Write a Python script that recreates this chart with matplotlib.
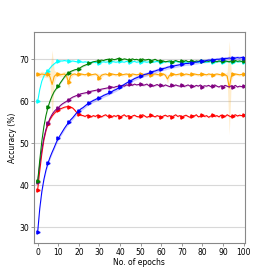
import matplotlib
matplotlib.use("Agg")
import matplotlib.pyplot as plt
import numpy as np

epochs = list(range(0, 101))

blue = [29.0, 34.5, 38.5, 41.4, 43.6, 45.3,
        46.7, 47.9, 49.0, 50.2, 51.2,
        52.0, 52.8, 53.6, 54.3, 55.0,
        55.6, 56.1, 56.7, 57.3, 57.8,
        58.2, 58.5, 58.9, 59.3, 59.7,
        59.9, 60.2, 60.4, 60.7, 60.9,
        61.1, 61.4, 61.6, 61.8, 62.1,
        62.3, 62.6, 62.8, 63.1, 63.4,
        63.7, 64.0, 64.3, 64.6, 64.9,
        65.1, 65.4, 65.6, 65.8, 66.0,
        66.2, 66.4, 66.5, 66.7, 66.9,
        67.1, 67.2, 67.4, 67.5, 67.7,
        67.8, 67.9, 68.1, 68.2, 68.3,
        68.4, 68.5, 68.6, 68.7, 68.8,
        68.9, 69.0, 69.0, 69.1, 69.2,
        69.3, 69.3, 69.4, 69.5, 69.6,
        69.6, 69.7, 69.8, 69.8, 69.9,
        69.9, 70.0, 70.0, 70.1, 70.1,
        70.2, 70.2, 70.3, 70.2, 70.3,
        70.3, 70.4, 70.3, 70.4, 70.4]

green = [41.0, 46.0, 50.5, 54.0, 56.6, 58.6, 60.1, 61.3, 62.3, 63.0,
         63.6, 64.4, 65.1, 65.8, 66.4, 66.8, 67.1, 67.3, 67.5, 67.6,
         67.8, 68.1, 68.4, 68.6, 68.8, 69.0, 69.2, 69.4, 69.5, 69.6,
         69.7, 69.8, 69.7, 69.9, 70.0, 69.9, 70.1, 69.9, 70.0, 70.2,
         70.0, 69.9, 70.1, 70.0, 69.8, 69.9, 70.1, 69.9, 70.0, 69.8,
         69.9, 70.1, 69.8, 69.9, 70.0, 69.7, 69.8, 70.0, 69.7, 69.6,
         69.5, 69.6, 69.4, 69.5, 69.6, 69.4, 69.5, 69.7, 69.5, 69.4,
         69.6, 69.5, 69.7, 69.4, 69.5, 69.6, 69.4, 69.6, 69.5, 69.7,
         69.5, 69.4, 69.6, 69.5, 69.7, 69.5, 69.6, 69.4, 69.6, 69.5,
         69.7, 69.6, 69.5, 69.4, 69.6, 69.5, 69.7, 69.5, 69.6, 69.5,
         69.6]

cyan = [60.0, 62.8, 64.8, 66.0, 66.8, 67.3, 67.9, 68.5, 68.9, 69.3,
        69.5, 69.6, 69.6, 69.7, 69.6, 69.6, 69.5, 69.6, 69.5, 69.4,
        69.5, 69.4, 69.3, 69.4, 69.3, 69.2, 69.3, 69.4, 69.2, 69.3,
        69.2, 69.3, 69.4, 69.3, 69.4, 69.3, 69.5, 69.4, 69.3, 69.4,
        69.5, 69.4, 69.3, 69.5, 69.4, 69.3, 69.4, 69.5, 69.3, 69.4,
        69.3, 69.5, 69.4, 69.3, 69.4, 69.5, 69.3, 69.4, 69.5, 69.3,
        69.4, 69.3, 69.4, 69.5, 69.3, 69.4, 69.3, 69.5, 69.4, 69.3,
        69.4, 69.5, 69.3, 69.4, 69.3, 69.4, 69.5, 69.4, 69.3, 69.4,
        69.5, 69.4, 69.3, 69.4, 69.5, 69.4, 69.3, 69.4, 69.5, 69.4,
        69.3, 69.4, 69.5, 69.4, 69.3, 69.4, 69.5, 69.4, 69.4, 69.5,
        69.4]

red = [39.0, 43.5, 47.5, 50.8, 53.0, 54.6, 55.7, 56.5, 57.1, 57.6,
       57.9, 58.2, 58.4, 58.6, 58.7, 58.7, 58.6, 58.4, 57.9, 57.3,
       56.9, 56.7, 56.6, 56.4, 56.7, 56.5, 56.3, 56.6, 56.4, 56.7,
       56.5, 56.3, 56.6, 56.8, 56.4, 56.5, 56.2, 56.6, 56.4, 56.7,
       56.3, 56.5, 56.8, 56.4, 56.6, 56.2, 56.5, 56.7, 56.4, 56.3,
       56.6, 56.8, 56.5, 56.2, 56.4, 56.7, 56.5, 56.3, 56.6, 56.4,
       56.2, 56.5, 56.7, 56.4, 56.6, 56.3, 56.5, 56.8, 56.4, 56.6,
       56.3, 56.5, 56.7, 56.4, 56.2, 56.6, 56.5, 56.8, 56.3, 56.5,
       56.7, 56.4, 56.6, 56.2, 56.5, 56.8, 56.4, 56.6, 56.3, 56.7,
       56.5, 56.4, 56.8, 56.5, 56.3, 56.6, 56.8, 56.5, 56.7, 56.6,
       56.7]

purple = [40.8, 45.0, 48.5, 51.3, 53.3, 54.8, 56.0, 56.9, 57.6, 58.1,
          58.5, 59.0, 59.4, 59.7, 60.0, 60.4, 60.7, 61.0, 61.2, 61.4,
          61.6, 61.8, 61.9, 62.0, 62.1, 62.3, 62.4, 62.5, 62.6, 62.7,
          62.8, 62.9, 63.0, 63.1, 63.2, 63.3, 63.4, 63.3, 63.5, 63.6,
          63.6, 63.8, 63.6, 63.9, 63.8, 64.0, 63.8, 64.1, 63.9, 64.0,
          64.1, 63.8, 63.9, 64.1, 63.7, 63.9, 63.6, 63.8, 64.0, 63.7,
          63.8, 63.6, 63.9, 63.7, 63.5, 63.8, 63.6, 63.9, 63.7, 63.6,
          63.8, 63.5, 63.7, 63.9, 63.6, 63.7, 63.5, 63.8, 63.6, 63.9,
          63.5, 63.7, 63.6, 63.8, 63.5, 63.7, 63.9, 63.6, 63.4, 63.7,
          63.5, 63.8, 63.6, 63.4, 63.7, 63.5, 63.8, 63.4, 63.6, 63.5,
          63.6]

orange = [66.4, 66.3, 66.5, 66.4, 66.3, 66.5, 65.8, 64.0, 65.9, 66.4,
          66.5, 66.3, 66.4, 66.5, 66.0, 64.5, 66.1, 66.4, 66.5, 66.3,
          66.4, 66.5, 66.4, 66.3, 66.5, 66.4, 66.3, 66.4, 66.5, 66.2,
          65.6, 66.2, 66.4, 66.5, 66.3, 66.4, 66.5, 66.4, 66.3, 66.4,
          66.5, 66.3, 66.4, 66.5, 66.4, 66.3, 66.5, 66.4, 66.3, 66.4,
          66.5, 66.4, 66.3, 66.4, 66.5, 66.3, 66.4, 66.5, 66.4, 66.3,
          66.4, 66.5, 66.2, 65.3, 66.2, 66.4, 66.5, 66.3, 66.4, 66.5,
          66.4, 66.3, 66.5, 66.4, 66.3, 66.4, 66.5, 66.4, 66.3, 66.4,
          66.5, 66.4, 66.3, 66.5, 66.4, 66.3, 66.4, 66.5, 66.4, 66.3,
          66.4, 66.3, 66.0, 63.2, 65.9, 66.4, 66.5, 66.4, 66.3, 66.4,
          66.5]

orange_std = [0.6, 0.6, 0.7, 0.6, 0.7, 0.8, 1.5, 8.2, 1.5, 0.6,
              0.5, 0.5, 0.5, 0.6, 1.0, 1.5, 0.8, 0.4, 0.3, 0.3,
              0.3, 0.3, 0.3, 0.3, 0.3, 0.3, 0.3, 0.3, 0.3, 0.5,
              0.9, 0.5, 0.3, 0.3, 0.3, 0.3, 0.3, 0.3, 0.3, 0.3,
              0.3, 0.3, 0.3, 0.3, 0.3, 0.3, 0.3, 0.3, 0.3, 0.3,
              0.3, 0.3, 0.3, 0.3, 0.3, 0.3, 0.3, 0.3, 0.3, 0.3,
              0.3, 0.3, 0.5, 1.0, 0.5, 0.3, 0.3, 0.3, 0.3, 0.3,
              0.3, 0.3, 0.3, 0.3, 0.3, 0.3, 0.3, 0.3, 0.3, 0.3,
              0.3, 0.3, 0.3, 0.3, 0.3, 0.3, 0.3, 0.3, 0.3, 0.3,
              0.3, 0.3, 1.0, 11.2, 1.0, 0.3, 0.3, 0.3, 0.3, 0.3,
              0.3]

fig = plt.figure(figsize=(2.73, 2.73), dpi=100)
ax = fig.add_axes([0.1245, 0.110, 0.7725, 0.773])

x = np.array(epochs)

series = [
    (cyan, [0.15] * len(epochs), "cyan"),
    (orange, orange_std, "orange"),
    (red, [0.2] * len(epochs), "red"),
    (purple, [0.2] * len(epochs), "purple"),
    (green, [0.2] * len(epochs), "green"),
    (blue, [0.45] * len(epochs), "blue"),
]

for vals, sds, col in series:
    v = np.array(vals)
    sd = np.array(sds)
    ax.fill_between(x, v - sd, v + sd, color=col, alpha=0.2, linewidth=0)
    ax.plot(x, v, color=col, lw=0.75, marker=">", markersize=2.3, markevery=5)

ax.set_xlim(-1.8, 100.6)
ax.set_ylim(26.3, 76.5)
ax.set_xticks(range(0, 101, 10))
ax.set_yticks([30, 40, 50, 60, 70])
ax.yaxis.grid(True, color="#d8d8d8", lw=0.8)
ax.set_axisbelow(True)
for s in ax.spines.values():
    s.set_color("#888888")
    s.set_linewidth(0.8)
ax.tick_params(labelsize=5.5, length=2, width=0.6, color="#888888", pad=1.5)
ax.set_xlabel("No. of epochs", fontsize=5.5, labelpad=1)
ax.set_ylabel("Accuracy (%)", fontsize=5.5, labelpad=2)

fig.savefig("out.png", dpi=100)
